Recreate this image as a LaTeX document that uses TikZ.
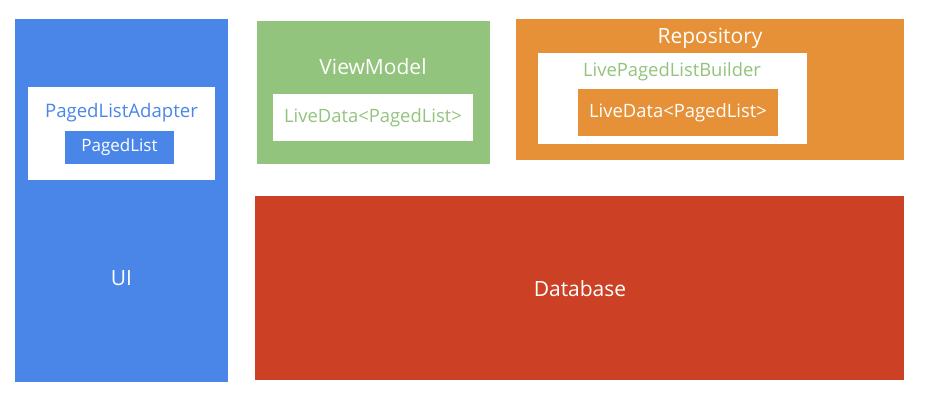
\documentclass[tikz,border=0pt]{standalone}
\usepackage{fontspec}
\setmainfont{Open Sans}
\definecolor{uiblue}{HTML}{4A86E8}
\definecolor{vmgreen}{HTML}{93C47D}
\definecolor{repoorange}{HTML}{E69138}
\definecolor{dbred}{HTML}{CC4125}
\begin{document}
\begin{tikzpicture}[x=1pt,y=-1pt,
  lbl/.style={inner sep=0pt, font=\fontsize{#1}{#1}\selectfont},
  lbl/.default=18]
\useasboundingbox[fill=white] (0,0) rectangle (927,400);
% UI column
\fill[uiblue] (15,19) rectangle (228,382);
\fill[white] (28,87) rectangle (215,180);
\fill[uiblue] (65,131) rectangle (174,164);
\node[lbl=18.6, text=uiblue] (adapter) at (121.5,113) {PagedListAdapter};
\node[lbl=17, text=white] (pagedlist) at (119.5,147.5) {PagedList};
\node[lbl=21, text=white] (ui) at (121.5,278) {UI};
% ViewModel
\fill[vmgreen] (257,21) rectangle (490,164);
\fill[white] (273,94) rectangle (473,141);
\node[lbl=21, text=white] (vm) at (373,67) {ViewModel};
\node[lbl=18.4, text=vmgreen] (vmlive) at (373,118) {LiveData<PagedList>};
% Repository
\fill[repoorange] (516,19) rectangle (904,160);
\fill[white] (538,53) rectangle (807,144);
\fill[repoorange] (578,89) rectangle (778,136);
\node[lbl=21, text=white] (repo) at (710,38.5) {Repository};
\node[lbl=18.4, text=vmgreen] (builder) at (672,72) {LivePagedListBuilder};
\node[lbl=18.4, text=white] (repolive) at (678,113) {LiveData<PagedList>};
% Database
\fill[dbred] (255,196) rectangle (904,380);
\node[lbl=21, text=white] (db) at (580,289) {Database};
\end{tikzpicture}
\end{document}
